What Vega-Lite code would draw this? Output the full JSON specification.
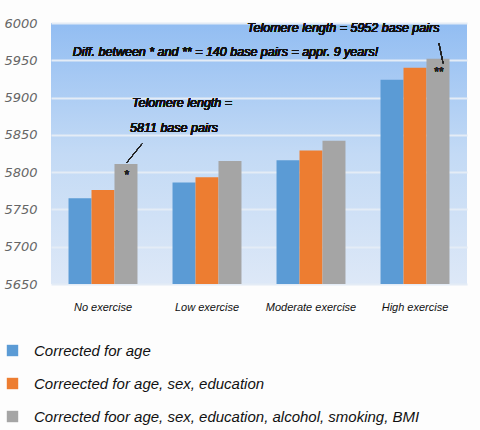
{
  "$schema": "https://vega.github.io/schema/vega-lite/v6.json",
  "autosize": {"type": "none"},
  "width": 416,
  "height": 261,
  "padding": {"left": 51, "top": 23, "right": 13, "bottom": 146},
  "background": "#fdfdfd",
  "data": {
    "values": [
      {"exercise": "No exercise", "correction": "Corrected for age", "length": 5765},
      {"exercise": "No exercise", "correction": "Correected for age, sex, education", "length": 5776},
      {"exercise": "No exercise", "correction": "Corrected foor age, sex, education, alcohol, smoking, BMI", "length": 5811},
      {"exercise": "Low exercise", "correction": "Corrected for age", "length": 5786},
      {"exercise": "Low exercise", "correction": "Correected for age, sex, education", "length": 5793},
      {"exercise": "Low exercise", "correction": "Corrected foor age, sex, education, alcohol, smoking, BMI", "length": 5815},
      {"exercise": "Moderate exercise", "correction": "Corrected for age", "length": 5816},
      {"exercise": "Moderate exercise", "correction": "Correected for age, sex, education", "length": 5829},
      {"exercise": "Moderate exercise", "correction": "Corrected foor age, sex, education, alcohol, smoking, BMI", "length": 5842},
      {"exercise": "High exercise", "correction": "Corrected for age", "length": 5924},
      {"exercise": "High exercise", "correction": "Correected for age, sex, education", "length": 5940},
      {"exercise": "High exercise", "correction": "Corrected foor age, sex, education, alcohol, smoking, BMI", "length": 5952}
    ]
  },
  "resolve": {"scale": {"x": "independent"}},
  "layer": [
    {
      "mark": {"type": "bar"},
      "encoding": {
        "x": {
          "field": "exercise",
          "type": "nominal",
          "sort": null,
          "scale": {"paddingInner": 0.337, "paddingOuter": 0.1685},
          "axis": {
            "title": null,
            "labelAngle": 0,
            "ticks": false,
            "domain": false,
            "labelPadding": 17,
            "labelFont": "Liberation Sans",
            "labelFontStyle": "italic",
            "labelFontSize": 11,
            "labelColor": "#111"
          }
        },
        "xOffset": {"field": "correction", "type": "nominal", "sort": null},
        "y": {
          "field": "length",
          "type": "quantitative",
          "scale": {"domain": [5650, 6000], "zero": false, "nice": false},
          "axis": {"title": null, "format": "d"}
        },
        "y2": {"datum": 5650},
        "color": {
          "field": "correction",
          "type": "nominal",
          "sort": null,
          "scale": {"range": ["#5b9bd5", "#ed7d31", "#a5a5a5"]},
          "legend": {
            "title": null,
            "orient": "none",
            "legendX": -46,
            "legendY": 320,
            "symbolType": "square",
            "symbolSize": 130,
            "symbolStrokeWidth": 0,
            "labelFont": "Liberation Sans",
            "labelFontStyle": "italic",
            "labelFontSize": 15,
            "labelColor": "#111",
            "labelOffset": 14,
            "labelLimit": 450,
            "rowPadding": 17
          }
        }
      }
    },
    {
      "mark": {"type": "rule", "color": "#222", "strokeWidth": 1},
      "encoding": {
        "x": {"datum": 0.875, "type": "quantitative", "scale": {"domain": [0, 4]}, "axis": null},
        "x2": {"datum": 0.73},
        "y": {"datum": 5838, "type": "quantitative"},
        "y2": {"datum": 5813}
      }
    },
    {
      "mark": {"type": "rule", "color": "#222", "strokeWidth": 1},
      "encoding": {
        "x": {"datum": 3.73, "type": "quantitative", "scale": {"domain": [0, 4]}, "axis": null},
        "x2": {"datum": 3.77},
        "y": {"datum": 5973, "type": "quantitative"},
        "y2": {"datum": 5946}
      }
    },
    {
      "mark": {"type": "text", "align": "left", "baseline": "middle", "font": "Liberation Sans", "fontStyle": "italic", "fontSize": 12.5, "color": "#111"},
      "encoding": {
        "x": {"datum": 0.21, "type": "quantitative", "scale": {"domain": [0, 4]}, "axis": null},
        "y": {"datum": 5961, "type": "quantitative"},
        "text": {"value": "Diff. between  * and  ** = 140 base pairs = appr. 9 years!"}
      }
    },
    {
      "mark": {"type": "text", "align": "left", "baseline": "middle", "font": "Liberation Sans", "fontStyle": "italic", "fontSize": 12.5, "color": "#111"},
      "encoding": {
        "x": {"datum": 1.885, "type": "quantitative", "scale": {"domain": [0, 4]}, "axis": null},
        "y": {"datum": 5993, "type": "quantitative"},
        "text": {"value": "Telomere length = 5952 base pairs"}
      }
    },
    {
      "mark": {"type": "text", "align": "left", "baseline": "middle", "font": "Liberation Sans", "fontStyle": "italic", "fontSize": 12.5, "color": "#111"},
      "encoding": {
        "x": {"datum": 0.78, "type": "quantitative", "scale": {"domain": [0, 4]}, "axis": null},
        "y": {"datum": 5893, "type": "quantitative"},
        "text": {"value": "Telomere length ="}
      }
    },
    {
      "mark": {"type": "text", "align": "left", "baseline": "middle", "font": "Liberation Sans", "fontStyle": "italic", "fontSize": 12.5, "color": "#111"},
      "encoding": {
        "x": {"datum": 0.76, "type": "quantitative", "scale": {"domain": [0, 4]}, "axis": null},
        "y": {"datum": 5859, "type": "quantitative"},
        "text": {"value": "5811 base pairs"}
      }
    },
    {
      "mark": {"type": "text", "align": "center", "baseline": "middle", "fontSize": 12, "color": "#222"},
      "encoding": {
        "x": {"datum": 0.73, "type": "quantitative", "scale": {"domain": [0, 4]}, "axis": null},
        "y": {"datum": 5796, "type": "quantitative"},
        "text": {"value": "*"}
      }
    },
    {
      "mark": {"type": "text", "align": "center", "baseline": "middle", "fontSize": 12, "color": "#222"},
      "encoding": {
        "x": {"datum": 3.73, "type": "quantitative", "scale": {"domain": [0, 4]}, "axis": null},
        "y": {"datum": 5934, "type": "quantitative"},
        "text": {"value": "**"}
      }
    }
  ],
  "config": {
    "axisY": {
      "tickCount": 8,
      "labelOverlap": false,
      "ticks": false,
      "domain": false,
      "labelPadding": 14,
      "labelFont": "DejaVu Sans",
      "labelFontStyle": "italic",
      "labelFontSize": 13,
      "labelColor": "#666",
      "gridColor": "#e4ecf6",
      "gridWidth": 2
    },
    "view": {
      "stroke": null,
      "fill": {
        "gradient": "linear",
        "x1": 0, "y1": 0, "x2": 0, "y2": 1,
        "stops": [
          {"offset": 0, "color": "#92bdf2"},
          {"offset": 0.5, "color": "#c3daf5"},
          {"offset": 1, "color": "#dde8f7"}
        ]
      }
    }
  }
}
